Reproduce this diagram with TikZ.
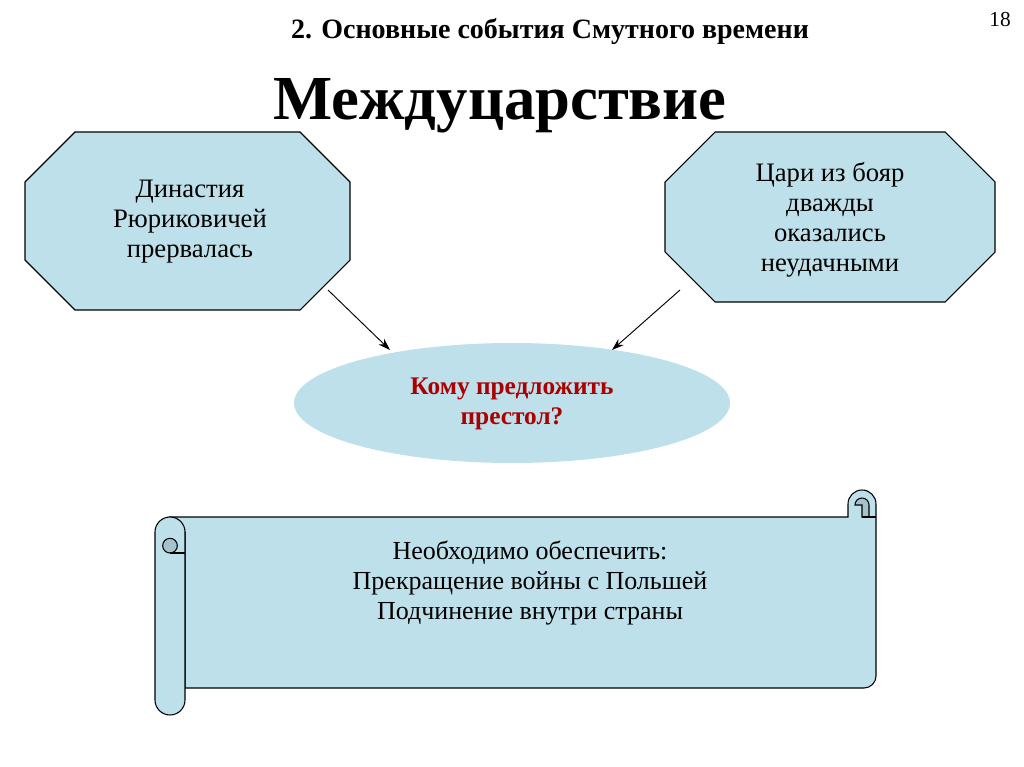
\documentclass[tikz,border=0pt]{standalone}
\usepackage{fontspec}
\setmainfont{Liberation Serif}
\usetikzlibrary{arrows.meta}
\definecolor{boxfill}{RGB}{190,224,234}
\definecolor{curlfill}{RGB}{165,195,205}
\definecolor{darkred}{RGB}{170,0,0}
\begin{document}
\begin{tikzpicture}[x=0.75pt,y=-0.75pt,
  oct/.style={fill=boxfill,draw=black,line width=0.8pt},
  txt/.style={align=center,font=\fontsize{20}{22.5}\selectfont},
  arr/.style={-{Stealth[length=9pt,width=6pt]},line width=0.7pt}]
\useasboundingbox (0,0) rectangle (1024,767);
\node[font=\bfseries\fontsize{21}{24}\selectfont] (t1) at (550,32) {2. Основные события Смутного времени};
\node[font=\fontsize{16}{18}\selectfont] (n) at (1000,20) {18};
\node[font=\bfseries\fontsize{47}{52}\selectfont] (t2) at (500,106) {Междуцарствие};
% left octagon
\draw[oct] (75,132)--(300,132)--(350,182)--(350,260)--(300,310)--(75,310)--(25,260)--(25,182)--cycle;
\node[txt] (l) at (190,222) {Династия\\Рюриковичей\\прервалась};
% right octagon
\draw[oct] (715,132)--(945,132)--(995,182)--(995,252)--(945,302)--(715,302)--(665,252)--(665,182)--cycle;
\node[txt] (r) at (830,220) {Цари из бояр\\дважды\\оказались\\неудачными};
% ellipse
\fill[boxfill] (512,403) ellipse [x radius=218,y radius=60];
\node[txt,font=\bfseries\fontsize{19}{22.5}\selectfont,text=darkred] (et) at (512,404) {Кому предложить\\престол?};
\coordinate (a1) at (328,290); \coordinate (a2) at (390,350);
\coordinate (b1) at (680,290); \coordinate (b2) at (612,350);
\draw[arr] (a1)--(a2);
\draw[arr] (b1)--(b2);
% scroll body + right roll
\draw[oct] (170,517)--(848,517)--(848,504) arc[start angle=180,end angle=0,radius=10.5pt]--(876,676) arc[start angle=0,end angle=-90,radius=9pt]--(185,688)--(185,532)--cycle;
\draw[line width=0.8pt,fill=curlfill] (855,505) arc[start angle=180,end angle=0,radius=5.25pt]--(869,517)--(862,517)--(862,505)--cycle;
\draw[line width=0.8pt] (862,517)--(876,517);
% left roll
\draw[oct] (185,532)--(185,700) arc[start angle=0,end angle=-180,radius=11.25pt]--(155,532) arc[start angle=180,end angle=0,radius=11.25pt]--cycle;
\draw[line width=0.8pt,fill=curlfill] (170,553) arc[start angle=-90,end angle=90,radius=5.5pt] arc[start angle=90,end angle=270,radius=5.5pt];
\draw[line width=0.8pt] (170,553)--(185,553);
\node[txt,font=\fontsize{19.5}{22.5}\selectfont] (s) at (530,583) {Необходимо обеспечить:\\Прекращение войны с Польшей\\Подчинение внутри страны};
\end{tikzpicture}
\end{document}
